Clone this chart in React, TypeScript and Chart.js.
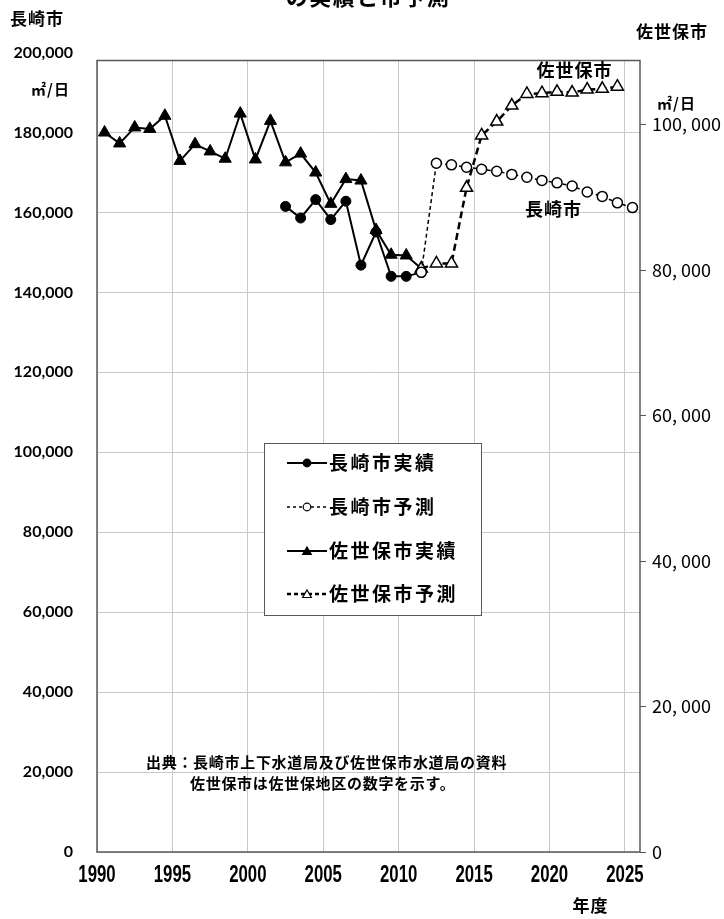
import React, { useEffect, useRef } from "react";
import { Chart, registerables } from "chart.js";

Chart.register(...registerables);

// ---------------- data ----------------
const NAGASAKI_ACTUAL_YEARS = [2002, 2003, 2004, 2005, 2006, 2007, 2008, 2009, 2010, 2011];
const NAGASAKI_ACTUAL = [161500, 158600, 163200, 158200, 162800, 146800, 155100, 144000, 144000, 145000];

const NAGASAKI_FORECAST_YEARS = [2011, 2012, 2013, 2014, 2015, 2016, 2017, 2018, 2019, 2020, 2021, 2022, 2023, 2024, 2025];
const NAGASAKI_FORECAST = [145000, 172300, 171900, 171300, 170800, 170300, 169500, 168800, 168000, 167400, 166600, 165100, 164000, 162400, 161200];

const SASEBO_ACTUAL_YEARS = [1990, 1991, 1992, 1993, 1994, 1995, 1996, 1997, 1998, 1999, 2000, 2001, 2002, 2003, 2004, 2005, 2006, 2007, 2008, 2009, 2010, 2011];
const SASEBO_ACTUAL = [98900, 97400, 99600, 99400, 101200, 95000, 97300, 96300, 95300, 101500, 95200, 100500, 94800, 96000, 93400, 89100, 92500, 92300, 85500, 82100, 82000, 80200];

const SASEBO_FORECAST_YEARS = [2011, 2012, 2013, 2014, 2015, 2016, 2017, 2018, 2019, 2020, 2021, 2022, 2023, 2024];
const SASEBO_FORECAST = [80200, 80900, 80900, 91300, 98500, 100400, 102600, 104200, 104300, 104500, 104400, 104800, 104900, 105200];

const X_TICKS = [1990, 1995, 2000, 2005, 2010, 2015, 2020, 2025];
const LEFT_TICKS = [0, 20000, 40000, 60000, 80000, 100000, 120000, 140000, 160000, 180000, 200000];
const RIGHT_TICKS = [0, 20000, 40000, 60000, 80000, 100000];

const SERIES_LABELS = ["長崎市実績", "長崎市予測", "佐世保市実績", "佐世保市予測"];
const TITLE_FRAGMENT = "の実績と市予測";
const LEFT_AXIS_TITLE = "長崎市";
const RIGHT_AXIS_TITLE = "佐世保市";
const UNIT = "㎡/日";
const X_AXIS_TITLE = "年度";
const NOTE_LINES = ["出典：長崎市上下水道局及び佐世保市水道局の資料", "佐世保市は佐世保地区の数字を示す。"];
const ANNOT_SASEBO = "佐世保市";
const ANNOT_NAGASAKI = "長崎市";

// ---------------- styling / layout ----------------
const W = 724;
const H = 919;
const X_MIN = 1990;
const X_MAX = 2026;
const FY_CENTER = 0.5; // points sit in the middle of each fiscal-year slot
const LEFT_MAX = 198000;
const RIGHT_MAX = 108800;
const JP = '"Noto Sans CJK JP", "Noto Sans CJK SC", sans-serif';
const BORDER = "#595959";
const GRID = "#c8c8c8";

const toPoints = (years: number[], vals: number[]) =>
  years.map((y, i) => ({ x: y + FY_CENTER, y: vals[i] }));

function drawMarker(ctx: CanvasRenderingContext2D, style: string, x: number, y: number, r: number, fill: string, lw: number) {
  ctx.beginPath();
  if (style === "triangle") {
    for (let k = 0; k < 3; k++) {
      const a = (k * 2 * Math.PI) / 3;
      const px = x + Math.sin(a) * r;
      const py = y - Math.cos(a) * r;
      if (k === 0) ctx.moveTo(px, py);
      else ctx.lineTo(px, py);
    }
    ctx.closePath();
  } else {
    ctx.arc(x, y, r, 0, Math.PI * 2);
  }
  ctx.fillStyle = fill;
  ctx.fill();
  ctx.lineWidth = lw;
  ctx.strokeStyle = "#000";
  ctx.stroke();
}

function text(ctx: CanvasRenderingContext2D, s: string, x: number, y: number, font: string, align: CanvasTextAlign, spacing = 0) {
  ctx.save();
  ctx.font = font;
  (ctx as any).letterSpacing = spacing + "px";
  ctx.fillStyle = "#000";
  ctx.textBaseline = "middle";
  let xx = x;
  const w = ctx.measureText(s).width - spacing;
  if (align === "center") xx = x - w / 2;
  else if (align === "right") xx = x - w;
  ctx.textAlign = "left";
  ctx.fillText(s, xx, y);
  ctx.restore();
}

const decorPlugin = {
  id: "decor",
  beforeDatasetsDraw(chart: any) {
    const { ctx, chartArea: a } = chart;
    ctx.save();
    ctx.strokeStyle = BORDER;
    ctx.lineWidth = 1.5;
    ctx.strokeRect(a.left, a.top, a.right - a.left, a.bottom - a.top);
    ctx.restore();
  },
  afterDraw(chart: any) {
    const { ctx, chartArea: a } = chart;
    // condensed x-axis tick labels, placed by the x scale
    const xs = chart.scales.x;
    ctx.save();
    ctx.font = 'bold 23px "Liberation Sans", Arial, sans-serif';
    ctx.fillStyle = "#000";
    ctx.textAlign = "center";
    ctx.textBaseline = "middle";
    X_TICKS.forEach((v) => {
      const px = xs.getPixelForValue(v);
      ctx.save();
      ctx.translate(px, a.bottom + 24);
      ctx.scale(0.73, 1);
      ctx.fillText(String(v), 0, 0);
      ctx.restore();
    });
    ctx.restore();

    // cut-off title
    ctx.save();
    ctx.font = `bold 22px ${JP}`;
    (ctx as any).letterSpacing = "1.5px";
    ctx.textAlign = "center";
    ctx.textBaseline = "alphabetic";
    ctx.fillStyle = "#000";
    ctx.fillText(TITLE_FRAGMENT, 368, 4.5);
    ctx.restore();

    text(ctx, LEFT_AXIS_TITLE, 10, 19, `bold 17px ${JP}`, "left", 1);
    text(ctx, RIGHT_AXIS_TITLE, 636, 32, `bold 17px ${JP}`, "left", 1);
    text(ctx, UNIT, 50, 89, `bold 15px ${JP}`, "center", 1);
    text(ctx, UNIT, 676, 103, `bold 15px ${JP}`, "center", 1);
    text(ctx, X_AXIS_TITLE, 590, 906, `bold 17px ${JP}`, "center", 1);
    text(ctx, ANNOT_SASEBO, 574, 70, `bold 18px ${JP}`, "center", 1);
    text(ctx, ANNOT_NAGASAKI, 553, 209, `bold 18px ${JP}`, "center", 1);
    text(ctx, NOTE_LINES[0], 146, 762, `bold 15px ${JP}`, "left", 0.7);
    text(ctx, NOTE_LINES[1], 190, 783, `bold 15px ${JP}`, "left", 0.7);

    // legend
    const lx = 264, ly = 443, lw = 217, lh = 172;
    ctx.save();
    ctx.fillStyle = "#fff";
    ctx.fillRect(lx, ly, lw, lh);
    ctx.strokeStyle = BORDER;
    ctx.lineWidth = 1;
    ctx.strokeRect(lx + 0.5, ly + 0.5, lw, lh);
    ctx.restore();
    const rows = [463, 507, 551, 594];
    chart.data.datasets.forEach((ds: any, i: number) => {
      const y = rows[i];
      ctx.save();
      ctx.strokeStyle = "#000";
      ctx.lineWidth = ds.borderWidth;
      ctx.setLineDash(ds.legendDash || []);
      ctx.beginPath();
      ctx.moveTo(287, y);
      ctx.lineTo(327, y);
      ctx.stroke();
      ctx.setLineDash([]);
      drawMarker(ctx, ds.pointStyle, 307, y + (ds.pointStyle === "triangle" ? 1 : 0), ds.pointStyle === "triangle" ? 5 : 3.8, ds.pointBackgroundColor, 1.2);
      ctx.restore();
      text(ctx, ds.label, 329, y, `bold 19px ${JP}`, "left", 2.5);
    });
  },
};

export default function App() {
  const ref = useRef<HTMLCanvasElement | null>(null);
  useEffect(() => {
    if (!ref.current) return;
    const chart = new Chart(ref.current, {
      type: "line",
      data: {
        datasets: [
          {
            label: SERIES_LABELS[0],
            data: toPoints(NAGASAKI_ACTUAL_YEARS, NAGASAKI_ACTUAL),
            yAxisID: "y",
            borderColor: "#000",
            borderWidth: 2,
            pointStyle: "circle",
            pointRadius: 5,
            pointBackgroundColor: "#000",
            pointBorderColor: "#000",
            pointBorderWidth: 1,
            order: 2,
          } as any,
          {
            label: SERIES_LABELS[1],
            data: toPoints(NAGASAKI_FORECAST_YEARS, NAGASAKI_FORECAST),
            yAxisID: "y",
            borderColor: "#000",
            borderWidth: 1.5,
            borderDash: [4, 3],
            legendDash: [3, 3],
            pointStyle: "circle",
            pointRadius: 5,
            pointBackgroundColor: "#fff",
            pointBorderColor: "#000",
            pointBorderWidth: 1.5,
            order: 0,
          } as any,
          {
            label: SERIES_LABELS[2],
            data: toPoints(SASEBO_ACTUAL_YEARS, SASEBO_ACTUAL),
            yAxisID: "y2",
            borderColor: "#000",
            borderWidth: 2,
            pointStyle: "triangle",
            pointRadius: 7,
            pointBackgroundColor: "#000",
            pointBorderColor: "#000",
            pointBorderWidth: 1,
            order: 3,
          } as any,
          {
            label: SERIES_LABELS[3],
            data: toPoints(SASEBO_FORECAST_YEARS, SASEBO_FORECAST),
            yAxisID: "y2",
            borderColor: "#000",
            borderWidth: 2.5,
            borderDash: [7, 4],
            legendDash: [4, 3],
            pointStyle: "triangle",
            pointRadius: 7,
            pointBackgroundColor: "#fff",
            pointBorderColor: "#000",
            pointBorderWidth: 1.5,
            order: 1,
          } as any,
        ],
      },
      options: {
        animation: false,
        responsive: false,
        maintainAspectRatio: false,
        layout: { padding: { top: 60.5, left: 0, right: 0, bottom: 0 } },
        plugins: { legend: { display: false }, tooltip: { enabled: false }, title: { display: false } },
        elements: { line: { tension: 0 } },
        scales: {
          x: {
            type: "linear",
            position: "bottom",
            min: X_MIN,
            max: X_MAX,
            afterBuildTicks: (s: any) => { s.ticks = X_TICKS.map((v) => ({ value: v })); },
            afterFit: (s: any) => { s.height = H - 852; },
            grid: { color: GRID, lineWidth: 1, drawTicks: false },
            border: { display: false },
            ticks: { display: false, autoSkip: false },
          },
          y: {
            type: "linear",
            position: "left",
            min: 0,
            max: LEFT_MAX,
            afterBuildTicks: (s: any) => { s.ticks = LEFT_TICKS.map((v) => ({ value: v })); },
            afterFit: (s: any) => { s.width = 97; },
            grid: {
              color: (c: any) => (c.tick && c.tick.value > LEFT_MAX ? "rgba(0,0,0,0)" : GRID),
              lineWidth: 1,
              drawTicks: false,
            },
            border: { display: false },
            ticks: {
              autoSkip: false,
              padding: 24,
              color: "#000",
              font: { family: "Lato, sans-serif", size: 16, weight: "bold" },
              callback: (v: any) => Number(v).toLocaleString("en-US"),
            },
          },
          y2: {
            type: "linear",
            position: "right",
            min: 0,
            max: RIGHT_MAX,
            afterBuildTicks: (s: any) => { s.ticks = RIGHT_TICKS.map((v) => ({ value: v })); },
            afterFit: (s: any) => { s.width = W - 640; },
            grid: { drawOnChartArea: false, drawTicks: true, tickLength: 6, color: BORDER, lineWidth: 1 },
            border: { display: false },
            ticks: {
              autoSkip: false,
              padding: 6,
              color: "#000",
              font: { family: JP, size: 18, weight: "normal" },
              callback: (v: any) => Number(v).toLocaleString("en-US").replace(",", ", "),
            },
          },
        },
      } as any,
      plugins: [decorPlugin],
    });
    return () => chart.destroy();
  }, []);
  return (
    <div style={{ position: "absolute", left: 0, top: 0, width: W, height: H, background: "#fff" }}>
      <canvas ref={ref} width={W} height={H} style={{ width: W, height: H, display: "block" }} />
    </div>
  );
}
